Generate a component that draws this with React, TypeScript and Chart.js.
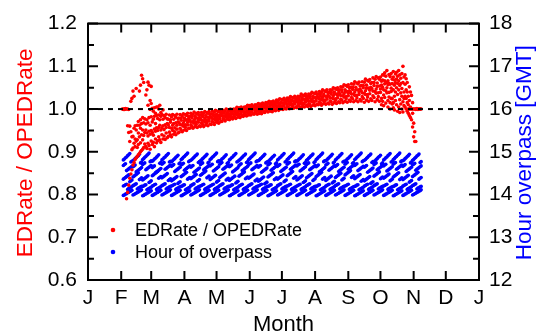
import React, { useEffect, useRef } from 'react';
import { Chart, registerables } from 'chart.js';
Chart.register(...registerables);

// ---- axes / tick data ----
const monthStartDays = [0, 31, 59, 90, 120, 151, 181, 212, 243, 273, 304, 334, 365];
const monthLabels = ['J', 'F', 'M', 'A', 'M', 'J', 'J', 'A', 'S', 'O', 'N', 'D', 'J'];
const ratioMajorTicks = [0.6, 0.7, 0.8, 0.9, 1.0, 1.1, 1.2];
const ratioMinorTicks = [0.65, 0.75, 0.85, 0.95, 1.05, 1.15];
const hourMajorTicks = [12, 13, 14, 15, 16, 17, 18];
const hourMinorTicks = [12.5, 13.5, 14.5, 15.5, 16.5, 17.5];
const referenceRatio = 1.0;

// ---- EDRate / OPEDRate: values per day, starting at day 32 ----
const redFirstDay = 32;
const redValues: number[][] = [
  // 32-44
  [1.000], [1.000, 0.999], [1.000, 0.999], [1.000, 1.001], [1.000, 0.790], [1.000, 0.805, 0.961], [0.999, 0.822, 0.945],
  [0.838, 0.924, 0.960], [0.848, 0.947, 1.018], [0.858, 0.935, 1.025, 0.905], [0.869, 0.909, 0.936, 1.042],
  [0.875, 0.920, 0.955, 1.030], [0.882, 0.961, 0.930, 0.912],
  // 45-54
  [0.886, 0.925, 0.951, 1.048], [0.889, 0.928, 0.962, 0.910], [0.893, 0.917, 0.944, 0.971], [0.896, 0.935, 0.962, 1.042],
  [0.900, 0.921, 0.955, 0.975, 1.056], [0.903, 0.940, 0.966, 1.079], [0.906, 0.928, 0.951, 0.980, 1.071],
  [0.910, 0.938, 0.968, 1.062], [0.918, 0.945, 0.977], [0.912, 0.951, 0.965, 1.033],
  // 55-64
  [0.908, 0.944, 0.975, 1.045], [0.920, 0.937, 0.968, 1.063, 1.009], [0.915, 0.948, 0.980, 1.056],
  [0.906, 0.941, 0.962, 0.999, 1.020], [0.925, 0.950, 0.982, 1.013, 1.053], [0.917, 0.945, 0.970, 1.002],
  [0.922, 0.939, 0.976, 0.995], [0.912, 0.953, 0.983, 1.003], [0.930, 0.948, 0.966, 0.990], [0.921, 0.956, 0.985, 1.005],
  // 65-74
  [0.926, 0.950, 0.978, 1.005], [0.935, 0.957, 0.986, 1.000], [0.928, 0.962, 0.975, 1.009], [0.922, 0.951, 0.983, 0.992],
  [0.940, 0.956, 0.987], [0.930, 0.961, 0.976, 0.998], [0.937, 0.952, 0.985], [0.929, 0.963, 0.980],
  [0.944, 0.957, 0.988], [0.933, 0.966, 0.977],
  // 75-84
  [0.936, 0.963, 0.976], [0.946, 0.957, 0.986], [0.940, 0.969, 0.975], [0.935, 0.955, 0.982], [0.950, 0.962, 0.987],
  [0.941, 0.966, 0.976], [0.947, 0.956, 0.985], [0.940, 0.968, 0.981], [0.953, 0.962, 0.988], [0.944, 0.970, 0.978],
  // 85-94
  [0.946, 0.968, 0.979], [0.955, 0.964, 0.987], [0.951, 0.974, 0.979], [0.947, 0.963, 0.984], [0.960, 0.968, 0.989],
  [0.951, 0.973, 0.979], [0.957, 0.963, 0.987], [0.950, 0.975, 0.985], [0.963, 0.969, 0.990], [0.955, 0.977, 0.982],
  // 95-104
  [0.955, 0.974, 0.983], [0.963, 0.970, 0.990], [0.960, 0.979, 0.983], [0.955, 0.970, 0.988], [0.967, 0.974, 0.993],
  [0.959, 0.978, 0.983], [0.964, 0.969, 0.990], [0.957, 0.979, 0.988], [0.969, 0.974, 0.992], [0.961, 0.980, 0.986],
  // 105-114
  [0.959, 0.977, 0.986], [0.967, 0.974, 0.992], [0.964, 0.982, 0.985], [0.959, 0.972, 0.990], [0.970, 0.977, 0.994],
  [0.963, 0.981, 0.985], [0.968, 0.973, 0.992], [0.961, 0.981, 0.990], [0.972, 0.977, 0.994], [0.965, 0.983, 0.988],
  // 115-124
  [0.964, 0.981, 0.989], [0.971, 0.978, 0.995], [0.969, 0.985, 0.988], [0.964, 0.977, 0.993], [0.975, 0.981, 0.997],
  [0.969, 0.984, 0.988], [0.973, 0.978, 0.995], [0.967, 0.985, 0.993], [0.977, 0.982, 0.997], [0.971, 0.987, 0.991],
  // 125-134
  [0.971, 0.985, 0.992], [0.977, 0.983, 0.997], [0.976, 0.990, 0.992], [0.972, 0.983, 0.996], [0.981, 0.986, 1.000],
  [0.976, 0.989, 0.992], [0.980, 0.983, 0.998], [0.975, 0.989, 0.996], [0.983, 0.987, 1.000], [0.979, 0.991, 0.995],
  // 135-144
  [0.977, 0.989, 0.995], [0.982, 0.987, 1.000], [0.981, 0.994, 0.996], [0.978, 0.988, 1.000], [0.986, 0.991, 1.004],
  [0.981, 0.994, 0.997], [0.985, 0.988, 1.003], [0.980, 0.995, 1.001], [0.989, 0.993, 1.005], [0.984, 0.997, 1.000],
  // 145-154
  [0.983, 0.995, 1.001], [0.988, 0.993, 1.005], [0.987, 1.000, 1.002], [0.984, 0.994, 1.006], [0.992, 0.997, 1.009],
  [0.986, 0.999, 1.002], [0.990, 0.993, 1.008], [0.986, 1.000, 1.006], [0.994, 0.998, 1.010], [0.989, 1.002, 1.005],
  // 155-164
  [0.988, 1.000, 1.006], [0.993, 0.998, 1.010], [0.992, 1.004, 1.006], [0.988, 0.998, 1.010], [0.996, 1.001, 1.013],
  [0.990, 1.003, 1.006], [0.994, 0.997, 1.012], [0.989, 1.004, 1.010], [0.998, 1.002, 1.014], [0.993, 1.006, 1.009],
  // 165-174
  [0.992, 1.004, 1.010], [0.997, 1.002, 1.015], [0.996, 1.008, 1.011], [0.993, 1.003, 1.015], [1.001, 1.005, 1.018],
  [0.995, 1.008, 1.011], [0.999, 1.002, 1.017], [0.994, 1.009, 1.015], [1.003, 1.007, 1.019], [0.998, 1.010, 1.014],
  // 175-184
  [0.996, 1.009, 1.016], [1.002, 1.007, 1.021], [1.001, 1.014, 1.017], [0.997, 1.008, 1.021], [1.006, 1.011, 1.024],
  [1.000, 1.014, 1.016], [1.004, 1.007, 1.022], [0.999, 1.014, 1.021], [1.008, 1.012, 1.025], [1.002, 1.016, 1.019],
  // 185-194
  [1.000, 1.014, 1.021], [1.006, 1.011, 1.026], [1.005, 1.018, 1.021], [1.001, 1.012, 1.026], [1.010, 1.015, 1.029],
  [1.003, 1.018, 1.021], [1.008, 1.011, 1.027], [1.002, 1.019, 1.026], [1.012, 1.016, 1.030], [1.005, 1.020, 1.024],
  // 195-204
  [1.003, 1.018, 1.025], [1.009, 1.015, 1.030], [1.008, 1.022, 1.025], [1.003, 1.015, 1.030], [1.013, 1.019, 1.035],
  [1.006, 1.022, 1.026], [1.011, 1.014, 1.032], [1.005, 1.023, 1.031], [1.016, 1.020, 1.035], [1.009, 1.024, 1.029],
  // 205-214
  [1.006, 1.022, 1.030], [1.012, 1.018, 1.035], [1.011, 1.026, 1.030], [1.006, 1.019, 1.035], [1.017, 1.023, 1.039],
  [1.009, 1.026, 1.030], [1.014, 1.018, 1.037], [1.008, 1.027, 1.036], [1.019, 1.024, 1.040], [1.011, 1.028, 1.034],
  // 215-224
  [1.010, 1.027, 1.035], [1.016, 1.023, 1.041], [1.014, 1.030, 1.035], [1.009, 1.022, 1.040], [1.021, 1.027, 1.045],
  [1.013, 1.031, 1.035], [1.018, 1.021, 1.042], [1.011, 1.030, 1.041], [1.023, 1.028, 1.045], [1.014, 1.032, 1.038],
  // 225-234
  [1.012, 1.030, 1.039], [1.019, 1.026, 1.045], [1.017, 1.035, 1.039], [1.011, 1.026, 1.045], [1.024, 1.031, 1.050],
  [1.015, 1.035, 1.040], [1.020, 1.024, 1.048], [1.013, 1.035, 1.046], [1.026, 1.032, 1.050], [1.017, 1.037, 1.043],
  // 235-244
  [1.015, 1.035, 1.045], [1.023, 1.031, 1.052], [1.021, 1.040, 1.045], [1.015, 1.031, 1.052], [1.028, 1.036, 1.057],
  [1.018, 1.040, 1.045], [1.024, 1.029, 1.055], [1.016, 1.041, 1.053], [1.031, 1.037, 1.057], [1.021, 1.043, 1.050],
  // 245-254
  [1.018, 1.040, 1.051], [1.027, 1.035, 1.059], [1.024, 1.046, 1.051], [1.017, 1.035, 1.058], [1.032, 1.040, 1.064],
  [1.020, 1.045, 1.051], [1.026, 1.032, 1.061], [1.017, 1.045, 1.059], [1.034, 1.040, 1.063], [1.022, 1.047, 1.054],
  // 255-264
  [1.019, 1.043, 1.055], [1.029, 1.038, 1.064], [1.025, 1.050, 1.055], [1.016, 1.037, 1.063], [1.034, 1.043, 1.070],
  [1.021, 1.049, 1.056], [1.028, 1.034, 1.067], [1.018, 1.049, 1.065], [1.036, 1.044, 1.069], [1.024, 1.051, 1.060],
  // 265-274
  [1.020, 1.048, 1.062], [1.031, 1.042, 1.073], [1.027, 1.055, 1.062], [1.017, 1.041, 1.070], [1.037, 1.047, 1.076],
  [1.022, 1.053, 1.061], [1.029, 1.038, 1.073], [1.018, 1.054, 1.070], [1.039, 1.047, 1.075], [1.025, 1.056, 1.065, 1.010],
  // 275-284
  [1.018, 1.051, 1.068, 1.080], [1.033, 1.045, 1.080, 1.008], [1.027, 1.059, 1.066, 1.085], [1.014, 1.043, 1.077],
  [1.038, 1.050, 1.090, 1.062], [1.020, 1.057, 1.066, 1.005], [1.028, 1.039, 1.081, 1.060], [1.015, 1.058, 1.076, 1.000],
  [1.041, 1.049, 1.083, 1.025], [1.024, 1.060, 1.070, 1.012],
  // 285-299
  [1.015, 1.045, 1.075, 1.088, 1.003], [1.030, 1.056, 1.068, 0.998], [1.020, 1.040, 1.082, 1.062], [1.010, 1.050, 1.086, 1.070],
  [1.034, 1.060, 1.077, 0.995], [1.005, 1.045, 1.066, 1.090], [1.022, 1.055, 1.080, 0.992], [1.012, 1.038, 1.072, 1.060],
  [1.000, 1.048, 1.083, 1.030], [1.017, 1.062, 1.100, 0.993], [1.008, 1.040, 1.075, 1.025], [1.005, 1.030, 1.058, 1.080],
  [1.000, 1.025, 1.071, 1.045], [0.995, 1.015, 1.040, 1.062], [0.990, 1.010, 1.030, 1.000],
  // 300-311
  [1.052, 1.000, 0.985, 1.020], [1.040, 0.980, 1.000, 1.005], [1.032, 0.975, 1.000], [0.990, 0.958, 1.000, 1.015],
  [0.967, 1.000, 0.935], [0.947, 0.924, 1.000], [0.924, 1.000, 0.999], [1.000, 1.001], [1.000, 0.999], [1.000],
  [1.000, 1.000], [1.000],
];

// ---- Hour of overpass [GMT]: five tracks, one value per day, starting at day 33 ----
const blueFirstDay = 33;
const blueTrack1 = [
  13.98, 13.99, 14.01, 14.02, 14.04, 14.05, 14.07, 14.08, 14.10,
  13.99, 14.00, 14.02, 14.03, 14.05, 14.06, 14.08, 14.09, 14.11,
  13.97, 13.98, 14.00, 14.01, 14.03, 14.04, 14.06, 14.07, 14.09,
  13.98, 13.99, 14.01, 14.02, 14.04, 14.05, 14.07, 14.08, 14.10,
  13.99, 14.00, 14.02, 14.03, 14.05, 14.06, 14.08, 14.09, 14.11,
  13.98, 13.99, 14.01, 14.02, 14.04, 14.05, 14.07, 14.08, 14.10,
  13.97, 13.98, 14.00, 14.01, 14.03, 14.04, 14.06, 14.07, 14.09,
  13.99, 14.00, 14.02, 14.03, 14.05, 14.06, 14.08, 14.09, 14.11,
  13.98, 13.99, 14.01, 14.02, 14.04, 14.05, 14.07, 14.08, 14.10,
  13.98, 13.99, 14.01, 14.02, 14.04, 14.05, 14.07, 14.08, 14.10,
  13.99, 14.00, 14.02, 14.03, 14.05, 14.06, 14.08, 14.09, 14.11,
  13.97, 13.98, 14.00, 14.01, 14.03, 14.04, 14.06, 14.07, 14.09,
  13.98, 13.99, 14.01, 14.02, 14.04, 14.05, 14.07, 14.08, 14.10,
  13.99, 14.00, 14.02, 14.03, 14.05, 14.06, 14.08, 14.09, 14.11,
  13.98, 13.99, 14.01, 14.02, 14.04, 14.05, 14.07, 14.08, 14.10,
  13.97, 13.98, 14.00, 14.01, 14.03, 14.04, 14.06, 14.07, 14.09,
  13.99, 14.00, 14.02, 14.03, 14.05, 14.06, 14.08, 14.09, 14.11,
  13.98, 13.99, 14.01, 14.02, 14.04, 14.05, 14.07, 14.08, 14.10,
  13.98, 13.99, 14.01, 14.02, 14.04, 14.05, 14.07, 14.08, 14.10,
  13.99, 14.00, 14.02, 14.03, 14.05, 14.06, 14.08, 14.09, 14.11,
  13.97, 13.98, 14.00, 14.01, 14.03, 14.04, 14.06, 14.07, 14.09,
  13.98, 13.99, 14.01, 14.02, 14.04, 14.05, 14.07, 14.08, 14.10,
  13.99, 14.00, 14.02, 14.03, 14.05, 14.06, 14.08, 14.09, 14.11,
  13.98, 13.99, 14.01, 14.02, 14.04, 14.05, 14.07, 14.08, 14.10,
  13.97, 13.98, 14.00, 14.01, 14.03, 14.04, 14.06, 14.07, 14.09,
  13.98, 13.99, 14.01, 14.02, 14.04, 14.05, 14.07, 14.08, 14.10,
  13.99, 14.00, 14.02, 14.03, 14.05, 14.06, 14.08, 14.09, 14.11,
  13.98, 13.99, 14.01, 14.02, 14.04, 14.05, 14.07, 14.08, 14.10,
  13.97, 13.98, 14.00, 14.01, 14.03, 14.04, 14.06, 14.07, 14.09,
  13.98, 13.99, 14.01, 14.02, 14.04, 14.05, 14.07, 14.08, 14.10,
  13.99, 14.00, 14.02, 14.03, 14.05, 14.06, 14.08, 14.09, 14.11,
];
const blueTrack2 = [
  14.20, 14.21, 14.23, 14.24, 14.12, 14.14, 14.15, 14.17, 14.18,
  14.21, 14.22, 14.24, 14.25, 14.13, 14.15, 14.16, 14.18, 14.19,
  14.19, 14.20, 14.22, 14.23, 14.11, 14.13, 14.14, 14.16, 14.17,
  14.20, 14.21, 14.23, 14.24, 14.12, 14.14, 14.15, 14.17, 14.18,
  14.21, 14.22, 14.24, 14.25, 14.13, 14.15, 14.16, 14.18, 14.19,
  14.20, 14.21, 14.23, 14.24, 14.12, 14.14, 14.15, 14.17, 14.18,
  14.19, 14.20, 14.22, 14.23, 14.11, 14.13, 14.14, 14.16, 14.17,
  14.21, 14.22, 14.24, 14.25, 14.13, 14.15, 14.16, 14.18, 14.19,
  14.20, 14.21, 14.23, 14.24, 14.12, 14.14, 14.15, 14.17, 14.18,
  14.20, 14.21, 14.23, 14.24, 14.12, 14.14, 14.15, 14.17, 14.18,
  14.21, 14.22, 14.24, 14.25, 14.13, 14.15, 14.16, 14.18, 14.19,
  14.19, 14.20, 14.22, 14.23, 14.11, 14.13, 14.14, 14.16, 14.17,
  14.20, 14.21, 14.23, 14.24, 14.12, 14.14, 14.15, 14.17, 14.18,
  14.21, 14.22, 14.24, 14.25, 14.13, 14.15, 14.16, 14.18, 14.19,
  14.20, 14.21, 14.23, 14.24, 14.12, 14.14, 14.15, 14.17, 14.18,
  14.19, 14.20, 14.22, 14.23, 14.11, 14.13, 14.14, 14.16, 14.17,
  14.21, 14.22, 14.24, 14.25, 14.13, 14.15, 14.16, 14.18, 14.19,
  14.20, 14.21, 14.23, 14.24, 14.12, 14.14, 14.15, 14.17, 14.18,
  14.20, 14.21, 14.23, 14.24, 14.12, 14.14, 14.15, 14.17, 14.18,
  14.21, 14.22, 14.24, 14.25, 14.13, 14.15, 14.16, 14.18, 14.19,
  14.19, 14.20, 14.22, 14.23, 14.11, 14.13, 14.14, 14.16, 14.17,
  14.20, 14.21, 14.23, 14.24, 14.12, 14.14, 14.15, 14.17, 14.18,
  14.21, 14.22, 14.24, 14.25, 14.13, 14.15, 14.16, 14.18, 14.19,
  14.20, 14.21, 14.23, 14.24, 14.12, 14.14, 14.15, 14.17, 14.18,
  14.19, 14.20, 14.22, 14.23, 14.11, 14.13, 14.14, 14.16, 14.17,
  14.20, 14.21, 14.23, 14.24, 14.12, 14.14, 14.15, 14.17, 14.18,
  14.21, 14.22, 14.24, 14.25, 14.13, 14.15, 14.16, 14.18, 14.19,
  14.20, 14.21, 14.23, 14.24, 14.12, 14.14, 14.15, 14.17, 14.18,
  14.19, 14.20, 14.22, 14.23, 14.11, 14.13, 14.14, 14.16, 14.17,
  14.20, 14.21, 14.23, 14.24, 14.12, 14.14, 14.15, 14.17, 14.18,
  14.21, 14.22, 14.24, 14.25, 14.13, 14.15, 14.16, 14.18, 14.19,
];
const blueTrack3 = [
  14.36, 14.38, 14.40, 14.42, 14.44, 14.46, 14.30, 14.32, 14.34,
  14.41, 14.43, 14.45, 14.47, 14.49, 14.51, 14.35, 14.37, 14.39,
  14.34, 14.36, 14.38, 14.40, 14.42, 14.44, 14.28, 14.30, 14.32,
  14.44, 14.46, 14.48, 14.50, 14.52, 14.54, 14.38, 14.40, 14.42,
  14.39, 14.41, 14.43, 14.45, 14.47, 14.49, 14.33, 14.35, 14.37,
  14.32, 14.34, 14.36, 14.38, 14.40, 14.42, 14.26, 14.28, 14.30,
  14.42, 14.44, 14.46, 14.48, 14.50, 14.52, 14.36, 14.38, 14.40,
  14.37, 14.39, 14.41, 14.43, 14.45, 14.47, 14.31, 14.33, 14.35,
  14.45, 14.47, 14.49, 14.51, 14.53, 14.55, 14.39, 14.41, 14.43,
  14.35, 14.37, 14.39, 14.41, 14.43, 14.45, 14.29, 14.31, 14.33,
  14.40, 14.42, 14.44, 14.46, 14.48, 14.50, 14.34, 14.36, 14.38,
  14.33, 14.35, 14.37, 14.39, 14.41, 14.43, 14.27, 14.29, 14.31,
  14.43, 14.45, 14.47, 14.49, 14.51, 14.53, 14.37, 14.39, 14.41,
  14.38, 14.40, 14.42, 14.44, 14.46, 14.48, 14.32, 14.34, 14.36,
  14.31, 14.33, 14.35, 14.37, 14.39, 14.41, 14.25, 14.27, 14.29,
  14.41, 14.43, 14.45, 14.47, 14.49, 14.51, 14.35, 14.37, 14.39,
  14.36, 14.38, 14.40, 14.42, 14.44, 14.46, 14.30, 14.32, 14.34,
  14.44, 14.46, 14.48, 14.50, 14.52, 14.54, 14.38, 14.40, 14.42,
  14.34, 14.36, 14.38, 14.40, 14.42, 14.44, 14.28, 14.30, 14.32,
  14.39, 14.41, 14.43, 14.45, 14.47, 14.49, 14.33, 14.35, 14.37,
  14.42, 14.44, 14.46, 14.48, 14.50, 14.52, 14.36, 14.38, 14.40,
  14.33, 14.35, 14.37, 14.39, 14.41, 14.43, 14.27, 14.29, 14.31,
  14.40, 14.42, 14.44, 14.46, 14.48, 14.50, 14.34, 14.36, 14.38,
  14.46, 14.48, 14.50, 14.52, 14.54, 14.56, 14.40, 14.42, 14.44,
  14.37, 14.39, 14.41, 14.43, 14.45, 14.47, 14.31, 14.33, 14.35,
  14.32, 14.34, 14.36, 14.38, 14.40, 14.42, 14.26, 14.28, 14.30,
  14.43, 14.45, 14.47, 14.49, 14.51, 14.53, 14.37, 14.39, 14.41,
  14.38, 14.40, 14.42, 14.44, 14.46, 14.48, 14.32, 14.34, 14.36,
  14.41, 14.43, 14.45, 14.47, 14.49, 14.51, 14.35, 14.37, 14.39,
  14.35, 14.37, 14.39, 14.41, 14.43, 14.45, 14.29, 14.31, 14.33,
  14.42, 14.44, 14.46, 14.48, 14.50, 14.52, 14.36, 14.38, 14.40,
];
const blueTrack4 = [
  14.68, 14.70, 14.72, 14.56, 14.58, 14.60, 14.62, 14.64, 14.66,
  14.65, 14.67, 14.69, 14.53, 14.55, 14.57, 14.59, 14.61, 14.63,
  14.70, 14.72, 14.74, 14.58, 14.60, 14.62, 14.64, 14.66, 14.68,
  14.63, 14.65, 14.67, 14.51, 14.53, 14.55, 14.57, 14.59, 14.61,
  14.71, 14.73, 14.75, 14.59, 14.61, 14.63, 14.65, 14.67, 14.69,
  14.66, 14.68, 14.70, 14.54, 14.56, 14.58, 14.60, 14.62, 14.64,
  14.69, 14.71, 14.73, 14.57, 14.59, 14.61, 14.63, 14.65, 14.67,
  14.64, 14.66, 14.68, 14.52, 14.54, 14.56, 14.58, 14.60, 14.62,
  14.70, 14.72, 14.74, 14.58, 14.60, 14.62, 14.64, 14.66, 14.68,
  14.67, 14.69, 14.71, 14.55, 14.57, 14.59, 14.61, 14.63, 14.65,
  14.71, 14.73, 14.75, 14.59, 14.61, 14.63, 14.65, 14.67, 14.69,
  14.65, 14.67, 14.69, 14.53, 14.55, 14.57, 14.59, 14.61, 14.63,
  14.68, 14.70, 14.72, 14.56, 14.58, 14.60, 14.62, 14.64, 14.66,
  14.70, 14.72, 14.74, 14.58, 14.60, 14.62, 14.64, 14.66, 14.68,
  14.64, 14.66, 14.68, 14.52, 14.54, 14.56, 14.58, 14.60, 14.62,
  14.69, 14.71, 14.73, 14.57, 14.59, 14.61, 14.63, 14.65, 14.67,
  14.66, 14.68, 14.70, 14.54, 14.56, 14.58, 14.60, 14.62, 14.64,
  14.71, 14.73, 14.75, 14.59, 14.61, 14.63, 14.65, 14.67, 14.69,
  14.67, 14.69, 14.71, 14.55, 14.57, 14.59, 14.61, 14.63, 14.65,
  14.70, 14.72, 14.74, 14.58, 14.60, 14.62, 14.64, 14.66, 14.68,
  14.65, 14.67, 14.69, 14.53, 14.55, 14.57, 14.59, 14.61, 14.63,
  14.69, 14.71, 14.73, 14.57, 14.59, 14.61, 14.63, 14.65, 14.67,
  14.66, 14.68, 14.70, 14.54, 14.56, 14.58, 14.60, 14.62, 14.64,
  14.71, 14.73, 14.75, 14.59, 14.61, 14.63, 14.65, 14.67, 14.69,
  14.68, 14.70, 14.72, 14.56, 14.58, 14.60, 14.62, 14.64, 14.66,
  14.64, 14.66, 14.68, 14.52, 14.54, 14.56, 14.58, 14.60, 14.62,
  14.70, 14.72, 14.74, 14.58, 14.60, 14.62, 14.64, 14.66, 14.68,
  14.67, 14.69, 14.71, 14.55, 14.57, 14.59, 14.61, 14.63, 14.65,
  14.71, 14.73, 14.75, 14.59, 14.61, 14.63, 14.65, 14.67, 14.69,
  14.66, 14.68, 14.70, 14.54, 14.56, 14.58, 14.60, 14.62, 14.64,
  14.69, 14.71, 14.73, 14.57, 14.59, 14.61, 14.63, 14.65, 14.67,
];
const blueTrack5 = [
  14.81, 14.83, 14.86, 14.88, 14.91, 14.93, 14.96, 14.76, 14.78,
  14.79, 14.81, 14.84, 14.86, 14.89, 14.91, 14.94, 14.74, 14.76,
  14.82, 14.84, 14.87, 14.89, 14.92, 14.94, 14.97, 14.77, 14.79,
  14.78, 14.80, 14.83, 14.85, 14.88, 14.90, 14.93, 14.73, 14.75,
  14.81, 14.83, 14.86, 14.88, 14.91, 14.93, 14.96, 14.76, 14.78,
  14.77, 14.79, 14.82, 14.84, 14.87, 14.89, 14.92, 14.72, 14.74,
  14.82, 14.84, 14.87, 14.89, 14.92, 14.94, 14.97, 14.77, 14.79,
  14.80, 14.82, 14.85, 14.87, 14.90, 14.92, 14.95, 14.75, 14.77,
  14.79, 14.81, 14.84, 14.86, 14.89, 14.91, 14.94, 14.74, 14.76,
  14.82, 14.84, 14.87, 14.89, 14.92, 14.94, 14.97, 14.77, 14.79,
  14.78, 14.80, 14.83, 14.85, 14.88, 14.90, 14.93, 14.73, 14.75,
  14.81, 14.83, 14.86, 14.88, 14.91, 14.93, 14.96, 14.76, 14.78,
  14.80, 14.82, 14.85, 14.87, 14.90, 14.92, 14.95, 14.75, 14.77,
  14.82, 14.84, 14.87, 14.89, 14.92, 14.94, 14.97, 14.77, 14.79,
  14.79, 14.81, 14.84, 14.86, 14.89, 14.91, 14.94, 14.74, 14.76,
  14.77, 14.79, 14.82, 14.84, 14.87, 14.89, 14.92, 14.72, 14.74,
  14.81, 14.83, 14.86, 14.88, 14.91, 14.93, 14.96, 14.76, 14.78,
  14.82, 14.84, 14.87, 14.89, 14.92, 14.94, 14.97, 14.77, 14.79,
  14.78, 14.80, 14.83, 14.85, 14.88, 14.90, 14.93, 14.73, 14.75,
  14.80, 14.82, 14.85, 14.87, 14.90, 14.92, 14.95, 14.75, 14.77,
  14.82, 14.84, 14.87, 14.89, 14.92, 14.94, 14.97, 14.77, 14.79,
  14.79, 14.81, 14.84, 14.86, 14.89, 14.91, 14.94, 14.74, 14.76,
  14.81, 14.83, 14.86, 14.88, 14.91, 14.93, 14.96, 14.76, 14.78,
  14.78, 14.80, 14.83, 14.85, 14.88, 14.90, 14.93, 14.73, 14.75,
  14.82, 14.84, 14.87, 14.89, 14.92, 14.94, 14.97, 14.77, 14.79,
  14.80, 14.82, 14.85, 14.87, 14.90, 14.92, 14.95, 14.75, 14.77,
  14.77, 14.79, 14.82, 14.84, 14.87, 14.89, 14.92, 14.72, 14.74,
  14.81, 14.83, 14.86, 14.88, 14.91, 14.93, 14.96, 14.76, 14.78,
  14.82, 14.84, 14.87, 14.89, 14.92, 14.94, 14.97, 14.77, 14.79,
  14.79, 14.81, 14.84, 14.86, 14.89, 14.91, 14.94, 14.74, 14.76,
  14.80, 14.82, 14.85, 14.87, 14.90, 14.92, 14.95, 14.75, 14.77,
];
const blueTracks = [blueTrack1, blueTrack2, blueTrack3, blueTrack4, blueTrack5];

const FONT = '"Liberation Sans", Arial, sans-serif';
const RED = '#ff0000';
const BLUE = '#0000ff';

const decorPlugin = {
  id: 'decor',
  afterDatasetsDraw(chart: any) {
    const { ctx, chartArea: a, scales } = chart;
    ctx.save();
    ctx.strokeStyle = '#000';
    ctx.lineWidth = 2;
    ctx.beginPath();
    for (const d of monthStartDays) {
      const x = scales.x.getPixelForValue(d);
      ctx.moveTo(x, a.bottom); ctx.lineTo(x, a.bottom - 9);
      ctx.moveTo(x, a.top); ctx.lineTo(x, a.top + 9);
    }
    for (const v of ratioMajorTicks) {
      const y = scales.y.getPixelForValue(v);
      ctx.moveTo(a.left, y); ctx.lineTo(a.left + 10, y);
    }
    for (const v of ratioMinorTicks) {
      const y = scales.y.getPixelForValue(v);
      ctx.moveTo(a.left, y); ctx.lineTo(a.left + 6, y);
    }
    for (const v of hourMajorTicks) {
      const y = scales.y2.getPixelForValue(v);
      ctx.moveTo(a.right, y); ctx.lineTo(a.right - 10, y);
    }
    for (const v of hourMinorTicks) {
      const y = scales.y2.getPixelForValue(v);
      ctx.moveTo(a.right, y); ctx.lineTo(a.right - 6, y);
    }
    ctx.stroke();
    ctx.lineWidth = 2;
    ctx.strokeRect(a.left, a.top, a.right - a.left, a.bottom - a.top);
    ctx.restore();
  },
  afterDraw(chart: any) {
    const { ctx, chartArea: a } = chart;
    const cy = (a.top + a.bottom) / 2 + 1;
    ctx.save();
    ctx.font = `22.5px ${FONT}`;
    ctx.textAlign = 'center';
    ctx.textBaseline = 'alphabetic';
    ctx.fillStyle = RED;
    ctx.save();
    ctx.translate(32, cy);
    ctx.rotate(-Math.PI / 2);
    ctx.fillText('EDRate / OPEDRate', 0, 0);
    ctx.restore();
    ctx.fillStyle = BLUE;
    ctx.save();
    ctx.translate(531, cy);
    ctx.rotate(-Math.PI / 2);
    ctx.fillText('Hour overpass [GMT]', 0, 0);
    ctx.restore();
    ctx.fillStyle = '#000';
    ctx.font = `22px ${FONT}`;
    ctx.fillText('Month', (a.left + a.right) / 2, 331);
    const legend = [
      { color: RED, text: 'EDRate / OPEDRate', y: 230 },
      { color: BLUE, text: 'Hour of overpass', y: 252 },
    ];
    ctx.font = `18px ${FONT}`;
    ctx.textAlign = 'left';
    ctx.textBaseline = 'middle';
    for (const item of legend) {
      ctx.fillStyle = item.color;
      ctx.beginPath();
      ctx.arc(a.left + 25, item.y, 2.3, 0, Math.PI * 2);
      ctx.fill();
      ctx.fillStyle = '#000';
      ctx.fillText(item.text, a.left + 47, item.y + 1);
    }
    ctx.restore();
  },
};

export default function App() {
  const ref = useRef<HTMLCanvasElement>(null);
  useEffect(() => {
    document.body.style.margin = '0';
    const redPoints: { x: number; y: number }[] = [];
    redValues.forEach((vals, i) => vals.forEach((v) => redPoints.push({ x: redFirstDay + i, y: v })));
    const bluePoints: { x: number; y: number }[] = [];
    blueTracks.forEach((track) => track.forEach((h, i) => bluePoints.push({ x: blueFirstDay + i, y: h })));
    const tickFont = { family: FONT, size: 21 };
    const chart = new Chart(ref.current as HTMLCanvasElement, {
      type: 'scatter',
      data: {
        datasets: [
          {
            label: 'unity',
            data: [{ x: 0, y: referenceRatio }, { x: 365, y: referenceRatio }],
            showLine: true,
            borderColor: '#000',
            borderWidth: 2,
            borderDash: [5, 5],
            pointRadius: 0,
            yAxisID: 'y',
          } as any,
          {
            label: 'EDRate / OPEDRate',
            data: redPoints,
            pointBackgroundColor: RED,
            pointBorderColor: RED,
            pointBorderWidth: 0,
            pointRadius: 1.8,
            yAxisID: 'y',
          },
          {
            label: 'Hour of overpass',
            data: bluePoints,
            pointBackgroundColor: BLUE,
            pointBorderColor: BLUE,
            pointBorderWidth: 0,
            pointRadius: 1.8,
            yAxisID: 'y2',
          },
        ],
      },
      options: {
        animation: false,
        responsive: false,
        devicePixelRatio: 1,
        events: [],
        layout: { padding: { top: 21, left: 0, right: 0, bottom: 0 } },
        plugins: { legend: { display: false }, tooltip: { enabled: false } },
        scales: {
          x: {
            type: 'linear',
            position: 'bottom',
            min: 0,
            max: 365,
            grid: { display: false, drawTicks: false, tickLength: 0 },
            border: { display: false },
            afterBuildTicks: (s: any) => { s.ticks = monthStartDays.map((value) => ({ value })); },
            afterFit: (s: any) => { s.height = 53; },
            ticks: {
              autoSkip: false,
              maxRotation: 0,
              padding: 6,
              color: '#000',
              font: tickFont,
              callback: (_v: any, i: number) => monthLabels[i],
            },
          },
          y: {
            type: 'linear',
            position: 'left',
            min: 0.6,
            max: 1.2,
            grid: { display: false, drawTicks: false, tickLength: 0 },
            border: { display: false },
            afterBuildTicks: (s: any) => { s.ticks = ratioMajorTicks.map((value) => ({ value })); },
            afterFit: (s: any) => { s.width = 88; },
            ticks: {
              padding: 11,
              color: '#000',
              font: tickFont,
              callback: (v: any) => Number(v).toFixed(1),
            },
          },
          y2: {
            type: 'linear',
            position: 'right',
            min: 12,
            max: 18,
            grid: { display: false, drawTicks: false, tickLength: 0 },
            border: { display: false },
            afterBuildTicks: (s: any) => { s.ticks = hourMajorTicks.map((value) => ({ value })); },
            afterFit: (s: any) => { s.width = 60; },
            ticks: {
              padding: 10,
              color: '#000',
              font: tickFont,
              callback: (v: any) => String(v),
            },
          },
        },
      },
      plugins: [decorPlugin],
    });
    return () => chart.destroy();
  }, []);
  return (
    <div style={{ width: 539, height: 333 }}>
      <canvas ref={ref} width={539} height={333} style={{ display: 'block' }} />
    </div>
  );
}
